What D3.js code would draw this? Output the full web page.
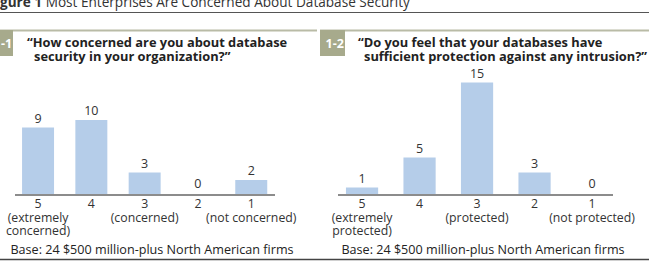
<!DOCTYPE html>
<html>
<head>
<meta charset="utf-8">
<script src="https://cdn.jsdelivr.net/npm/d3@7"></script>
<style>
  body { margin: 0; background: #fff; }
  svg { display: block; font-family: "Open Sans", "Noto Sans", sans-serif; }
</style>
</head>
<body>
<div id="chart"></div>
<script>
// data
var categories = ["5", "4", "3", "2", "1"];
var concernValues = [9, 10, 3, 0, 2];
var protectValues = [1, 5, 15, 3, 0];
var concernLabels = [["(extremely", "concerned)"], [], ["(concerned)"], [], ["(not concerned)"]];
var protectLabels = [["(extremely", "protected)"], [], ["(protected)"], [], ["(not protected)"]];
var baseNote = "Base: 24 $500 million-plus North American firms";

var w = 649, h = 263;
var barColor = "#b5cde9";
var olive = "#a7aa8c";
var font = "'Open Sans', 'Noto Sans', sans-serif";

var svg = d3.select("#chart").append("svg")
    .attr("width", w)
    .attr("height", h);

// title, clipped at the top-left like the scan
var title = svg.append("text")
    .attr("x", 0)
    .attr("y", 7)
    .attr("font-size", 13.6)
    .style("fill", "#333");
title.append("tspan").style("font-weight", "bold").text("gure 1");
title.append("tspan").text(" Most Enterprises Are Concerned About Database Security");

svg.append("line")
    .attr("x1", 0).attr("x2", w)
    .attr("y1", 12.5).attr("y2", 12.5)
    .attr("stroke", "#555")
    .attr("stroke-width", 1.2);

var y = d3.scaleLinear().domain([0, 15]).range([195, 82.5]);

var panels = [
  {
    badge: "-1", badgeX: -12, badgeW: 25, badgeTextX: 1, lineX: [0, 317],
    q: ["\u201cHow concerned are you about database", "security in your organization?\u201d"],
    qX: [27, 34],
    values: concernValues, labels: concernLabels,
    range: [11.4, 277.9], pad: 0.4, axis: [15, 275], noteX: 152
  },
  {
    badge: "1-2", badgeX: 320, badgeW: 25, badgeTextX: 325.5, lineX: [320, 649],
    q: ["\u201cDo you feel that your databases have", "sufficient protection against any intrusion?\u201d"],
    qX: [358, 364],
    values: protectValues, labels: protectLabels,
    range: [333.3, 620.8], pad: 0.44, axis: [338, 613], noteX: 483
  }
];

panels.forEach(function (p) {
  var g = svg.append("g");

  g.append("line")
      .attr("x1", p.lineX[0]).attr("x2", p.lineX[1])
      .attr("y1", 30.5).attr("y2", 30.5)
      .attr("stroke", "#b9bba6")
      .attr("stroke-width", 2);

  g.append("rect")
      .attr("x", p.badgeX).attr("y", 30)
      .attr("width", p.badgeW).attr("height", 26)
      .attr("fill", olive);

  g.append("text")
      .attr("x", p.badgeTextX)
      .attr("y", 47.5)
      .attr("font-size", 12.5)
      .style("font-weight", "bold")
      .style("fill", "#fff")
      .text(p.badge);

  p.q.forEach(function (line, i) {
    g.append("text")
        .attr("x", p.qX[i])
        .attr("y", 47 + i * 14)
        .attr("font-size", 12.85)
        .style("font-weight", "bold")
        .style("fill", "#222")
        .text(line);
  });

  var x = d3.scaleBand()
      .domain(categories)
      .range(p.range)
      .paddingInner(p.pad)
      .paddingOuter(p.pad / 2);

  var rows = categories.map(function (c, i) {
    return { cat: c, value: p.values[i], sub: p.labels[i] };
  });

  g.selectAll(".bar")
      .data(rows)
      .enter().append("rect")
      .attr("class", "bar")
      .attr("x", function (d) { return x(d.cat); })
      .attr("y", function (d) { return y(d.value); })
      .attr("width", x.bandwidth())
      .attr("height", function (d) { return y(0) - y(d.value); })
      .attr("fill", barColor);

  g.selectAll(".val")
      .data(rows)
      .enter().append("text")
      .attr("class", "val")
      .attr("x", function (d) { return x(d.cat) + x.bandwidth() / 2; })
      .attr("y", function (d) { return y(d.value) - (d.value === 0 ? 7 : 5); })
      .attr("text-anchor", "middle")
      .attr("font-size", 12.5)
      .style("fill", "#333")
      .text(function (d) { return d.value; });

  g.append("line")
      .attr("x1", p.axis[0]).attr("x2", p.axis[1])
      .attr("y1", y(0)).attr("y2", y(0))
      .attr("stroke", "#8c8c8c")
      .attr("stroke-width", 2);

  var ax = g.append("g")
      .attr("transform", "translate(0," + y(0) + ")")
      .call(d3.axisBottom(x).tickSize(0).tickPadding(0));
  ax.select(".domain").remove();
  ax.selectAll(".tick text")
      .attr("y", 13)
      .attr("dy", 0)
      .attr("font-size", 12.3)
      .attr("font-family", font)
      .style("fill", "#333");

  ax.selectAll(".tick").each(function (c, i) {
    var t = d3.select(this);
    rows[i].sub.forEach(function (s, k) {
      t.append("text")
          .attr("y", 26.5 + k * 13.5)
          .attr("text-anchor", "middle")
          .attr("font-size", 12.3)
          .attr("font-family", font)
          .style("fill", "#333")
          .text(s);
    });
  });

  g.append("text")
      .attr("x", p.noteX)
      .attr("y", 254)
      .attr("text-anchor", "middle")
      .attr("font-size", 12.6)
      .style("fill", "#222")
      .text(baseNote);
});

svg.append("line")
    .attr("x1", 0).attr("x2", w)
    .attr("y1", 259.5).attr("y2", 259.5)
    .attr("stroke", "#444")
    .attr("stroke-width", 1.5);
</script>
</body>
</html>
